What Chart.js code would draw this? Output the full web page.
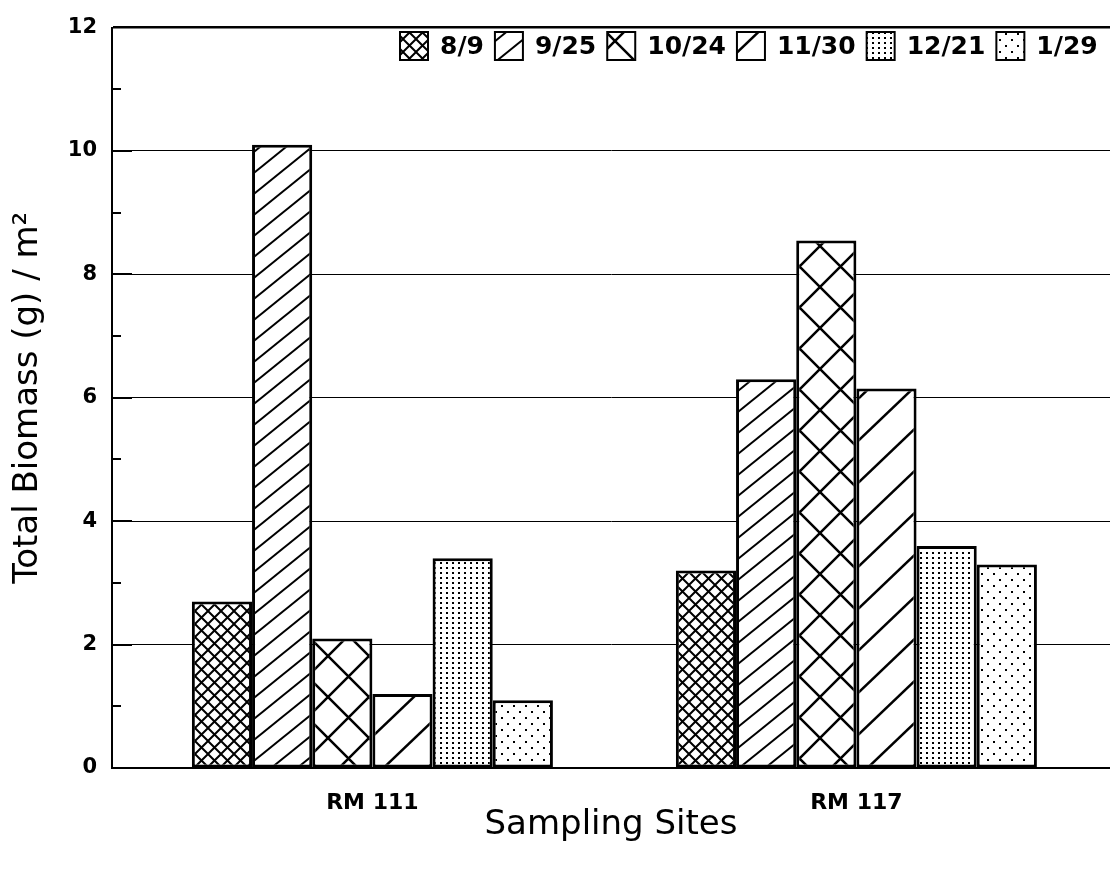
<!DOCTYPE html>
<html>
<head>
<meta charset="utf-8">
<script src="https://cdn.jsdelivr.net/npm/chart.js@4.4.1/dist/chart.umd.min.js"></script>
<style>
    html, body { margin: 0; padding: 0; background: #fff; }
    #grafico { display: block; }
</style>
</head>
<body>
<canvas id="grafico" width="1110" height="876"></canvas>
<script>
const sites = ['RM 111', 'RM 117'];
const dates = ['8/9', '9/25', '10/24', '11/30', '12/21', '1/29'];
const rm111 = [2.7, 10.1, 2.1, 1.2, 3.4, 1.1];
const rm117 = [3.2, 6.3, 8.55, 6.15, 3.6, 3.3];
const yTicks = [0, 2, 4, 6, 8, 10, 12];
const fills = ['fineCross', 'fineDiag', 'coarseCross', 'coarseDiag', 'denseDots', 'sparseDots'];

// hatch fills, black on white like the printed figure
function tile(w, h, draw) {
    const c = document.createElement('canvas');
    c.width = w;
    c.height = h;
    const g = c.getContext('2d');
    g.fillStyle = '#fff';
    g.fillRect(0, 0, w, h);
    g.strokeStyle = '#000';
    g.fillStyle = '#000';
    draw(g, w, h);
    return document.getElementById('grafico').getContext('2d').createPattern(c, 'repeat');
}

function cross(s, lw) {
    return tile(s, s, (g) => {
        g.lineWidth = lw;
        for (let k = -1; k <= 1; k++) {
            g.beginPath();
            g.moveTo(k * s, 0); g.lineTo(k * s + s, s);
            g.moveTo(k * s, s); g.lineTo(k * s + s, 0);
            g.stroke();
        }
    });
}

function diag(w, h, lw) {
    return tile(w, h, (g) => {
        g.lineWidth = lw;
        for (let k = -1; k <= 1; k++) {
            g.beginPath();
            g.moveTo(-w, 2 * h + k * h);
            g.lineTo(2 * w, -h + k * h);
            g.stroke();
        }
    });
}

function dots(w, h, pts, r) {
    return tile(w, h, (g) => {
        pts.forEach(p => g.fillRect(p[0], p[1], r, r));
    });
}

const patterns = {
    fineCross: cross(13, 2),
    fineDiag: diag(26, 21, 2),
    coarseCross: cross(41, 2.5),
    coarseDiag: diag(44, 42, 2.5),
    denseDots: dots(6, 5, [[2, 2]], 2),
    sparseDots: dots(12, 12, [[3, 3], [9, 9]], 2)
};

const datasets = dates.map((d, i) => ({
    label: d,
    data: [{ x: 0, y: rm111[i] }, { x: 1, y: rm117[i] }],
    backgroundColor: patterns[fills[i]],
    borderColor: '#000',
    borderWidth: 3,
    borderSkipped: false
}));

// inward tick marks on the y axis
const innerTicks = {
    id: 'innerTicks',
    afterDatasetsDraw(chart) {
        const { ctx, chartArea, scales } = chart;
        ctx.save();
        ctx.strokeStyle = '#000';
        ctx.lineWidth = 2;
        for (let v = 1; v < 12; v++) {
            const y = Math.round(scales.y.getPixelForValue(v));
            const len = v % 2 === 0 ? 20 : 9;
            ctx.beginPath();
            ctx.moveTo(chartArea.left, y);
            ctx.lineTo(chartArea.left + len, y);
            ctx.stroke();
        }
        ctx.restore();
    }
};

// legend in one row inside the plot, top right
const boxLegend = {
    id: 'boxLegend',
    afterDraw(chart) {
        const ctx = chart.ctx;
        let x = 400;
        const top = 32, box = 28;
        ctx.save();
        ctx.font = 'bold 25px "DejaVu Sans"';
        ctx.textBaseline = 'middle';
        chart.data.datasets.forEach(ds => {
            ctx.fillStyle = ds.backgroundColor;
            ctx.fillRect(x, top, box, box);
            ctx.strokeStyle = '#000';
            ctx.lineWidth = 2;
            ctx.strokeRect(x, top, box, box);
            x += box + 12;
            ctx.fillStyle = '#000';
            ctx.fillText(ds.label, x, top + box / 2 + 1);
            x += ctx.measureText(ds.label).width + 11;
        });
        ctx.restore();
    }
};

Chart.defaults.font.family = '"DejaVu Sans"';
Chart.defaults.color = '#000';

new Chart(document.getElementById('grafico'), {
    type: 'bar',
    data: { datasets },
    options: {
        responsive: false,
        animation: false,
        devicePixelRatio: 1,
        categoryPercentage: 0.746,
        barPercentage: 1,
        layout: { padding: { top: 19, right: 0, left: 0, bottom: 0 } },
        plugins: {
            legend: { display: false },
            tooltip: { enabled: false }
        },
        scales: {
            x: {
                type: 'linear',
                offset: false,
                min: -0.538,
                max: 1.524,
                afterBuildTicks: (scale) => {
                    scale.ticks = sites.map((s, i) => ({ value: i }));
                },
                afterFit: (scale) => { scale.height = 108; },
                grid: { display: false, offset: false },
                border: { color: '#000', width: 2 },
                ticks: {
                    callback: (v) => sites[v] ?? '',
                    font: { size: 22, weight: 'bold' },
                    padding: 14,
                    maxRotation: 0
                },
                title: {
                    display: true,
                    text: 'Sampling Sites',
                    font: { size: 34 },
                    padding: { bottom: 30 }
                }
            },
            y: {
                min: 0,
                max: 12,
                afterBuildTicks: (scale) => {
                    scale.ticks = [];
                    for (let v = 0; v <= 12; v++) scale.ticks.push({ value: v });
                },
                afterFit: (scale) => { scale.width = 112; },
                grid: {
                    drawTicks: false,
                    color: (c) => yTicks.includes(c.tick.value) ? '#000' : 'rgba(0,0,0,0)',
                    lineWidth: (c) => c.tick.value === 12 ? 2.5 : 1
                },
                border: { color: '#000', width: 2 },
                ticks: {
                    callback: (v) => yTicks.includes(v) ? v : '',
                    font: { size: 21, weight: 'bold' },
                    padding: 15
                },
                title: {
                    display: true,
                    text: 'Total Biomass (g) / m²',
                    font: { size: 34 },
                    padding: { top: 8 }
                }
            }
        }
    },
    plugins: [innerTicks, boxLegend]
});
</script>
</body>
</html>
